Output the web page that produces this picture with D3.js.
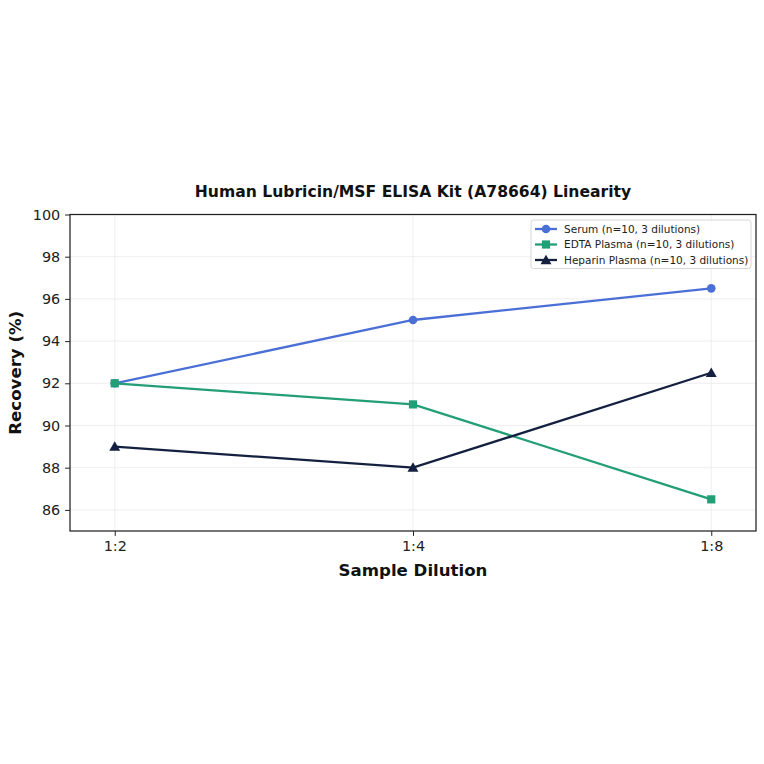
<!DOCTYPE html>
<html>
<head>
<meta charset="utf-8">
<script src="https://cdn.jsdelivr.net/npm/d3@7"></script>
<style>
  body { margin: 0; background: #fff; }
  svg { font-family: "DejaVu Sans", sans-serif; }
</style>
</head>
<body>
<div id="chart"></div>
<script>
// chart values
const dilutions = ["1:2", "1:4", "1:8"];
const serum = [92, 95, 96.5];
const edta = [92, 91, 86.5];
const heparin = [89, 88, 92.5];
const seriesNames = ["Serum (n=10, 3 dilutions)", "EDTA Plasma (n=10, 3 dilutions)", "Heparin Plasma (n=10, 3 dilutions)"];
const yTicks = [86, 88, 90, 92, 94, 96, 98, 100];

const series = [
    {name: seriesNames[0], values: serum, color: "#4a6fd6", marker: "circle"},
    {name: seriesNames[1], values: edta, color: "#239e76", marker: "square"},
    {name: seriesNames[2], values: heparin, color: "#14203f", marker: "triangle"}
];

const W = 764, H = 764;
const margin = {top: 214.5, right: 8, bottom: 233, left: 70};
const width = W - margin.left - margin.right;
const height = H - margin.top - margin.bottom;

const svg = d3.select("#chart").append("svg")
    .attr("width", W)
    .attr("height", H);

const g = svg.append("g")
    .attr("transform", "translate(" + margin.left + "," + margin.top + ")");

const x = d3.scaleLinear().domain([-0.15, dilutions.length - 1 + 0.15]).range([0, width]);
const y = d3.scaleLinear().domain([85, 100]).range([height, 0]);

// grid
g.append("g").selectAll("line.gy")
    .data(yTicks).enter().append("line")
    .attr("x1", 0).attr("x2", width)
    .attr("y1", d => y(d)).attr("y2", d => y(d))
    .attr("stroke", "#ebebeb").attr("stroke-width", 0.8);
g.append("g").selectAll("line.gx")
    .data(dilutions).enter().append("line")
    .attr("x1", (d, i) => x(i)).attr("x2", (d, i) => x(i))
    .attr("y1", 0).attr("y2", height)
    .attr("stroke", "#ebebeb").attr("stroke-width", 0.8);

// axes
const xAxis = d3.axisBottom(x)
    .tickValues(d3.range(dilutions.length))
    .tickFormat(i => dilutions[i])
    .tickSize(4.9).tickPadding(4.9);
const yAxis = d3.axisLeft(y)
    .tickValues(yTicks)
    .tickSize(4.9).tickPadding(4.9);

const gx = g.append("g").attr("transform", "translate(0," + height + ")").call(xAxis);
const gy = g.append("g").call(yAxis);
[gx, gy].forEach(a => {
    a.select(".domain").remove();
    a.selectAll("text").attr("font-size", "14.4px").attr("fill", "#222")
        .attr("font-family", "DejaVu Sans, sans-serif");
    a.selectAll("line").attr("stroke", "#222").attr("stroke-width", 1);
});

// frame
g.append("rect")
    .attr("x", 0).attr("y", 0).attr("width", width).attr("height", height)
    .attr("fill", "none").attr("stroke", "#222").attr("stroke-width", 1.25);

// lines
const line = d3.line().x((d, i) => x(i)).y(d => y(d));
const triangle = d3.symbol().type(d3.symbolTriangle).size(52);

series.forEach(s => {
    g.append("path")
        .datum(s.values)
        .attr("d", line)
        .attr("fill", "none")
        .attr("stroke", s.color)
        .attr("stroke-width", 2.3);
    const pts = g.append("g").selectAll("g").data(s.values).enter().append("g")
        .attr("transform", (d, i) => "translate(" + x(i) + "," + y(d) + ")");
    drawMarker(pts, s);
});

function drawMarker(sel, s) {
    if (s.marker === "circle") {
        sel.append("circle").attr("r", 4.3).attr("fill", s.color);
    } else if (s.marker === "square") {
        sel.append("rect").attr("x", -4.1).attr("y", -4.1).attr("width", 8.2).attr("height", 8.2).attr("fill", s.color);
    } else {
        sel.append("path").attr("d", triangle).attr("transform", "translate(0,1)").attr("fill", s.color);
    }
}

// legend
const lg = g.append("g").attr("transform", "translate(" + (531 - margin.left) + "," + (220 - margin.top) + ")");
lg.append("rect")
    .attr("width", 220).attr("height", 48.5).attr("rx", 2.5)
    .attr("fill", "#fff").attr("fill-opacity", 0.8)
    .attr("stroke", "#d6d6d6").attr("stroke-width", 1);
series.forEach((s, i) => {
    const row = lg.append("g").attr("transform", "translate(0," + (9 + i * 15.5) + ")");
    row.append("line").attr("x1", 4).attr("x2", 26).attr("y1", 0).attr("y2", 0)
        .attr("stroke", s.color).attr("stroke-width", 2.3);
    const m = row.append("g").attr("transform", "translate(15,0)");
    drawMarker(m, s);
    row.append("text").attr("x", 33).attr("y", 3.8)
        .attr("font-size", "10.5px").attr("fill", "#222").text(s.name);
});

// title and labels
svg.append("text")
    .attr("x", margin.left + width / 2).attr("y", 197)
    .attr("text-anchor", "middle")
    .attr("font-size", "15.6px").attr("font-weight", "bold").attr("fill", "#111")
    .text("Human Lubricin/MSF ELISA Kit (A78664) Linearity");

svg.append("text")
    .attr("x", margin.left + width / 2).attr("y", 576)
    .attr("text-anchor", "middle")
    .attr("font-size", "16.6px").attr("font-weight", "bold").attr("fill", "#111")
    .text("Sample Dilution");

svg.append("text")
    .attr("transform", "translate(21," + (margin.top + height / 2) + ") rotate(-90)")
    .attr("text-anchor", "middle")
    .attr("font-size", "16.6px").attr("font-weight", "bold").attr("fill", "#111")
    .text("Recovery (%)");
</script>
</body>
</html>
